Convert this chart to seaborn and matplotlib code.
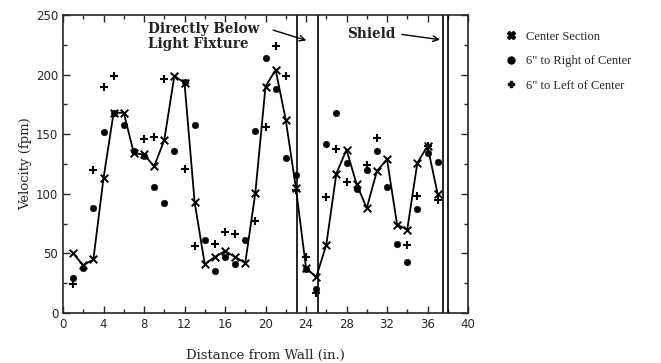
import numpy as np
import pandas as pd
import matplotlib
matplotlib.use("Agg")
import matplotlib.pyplot as plt
import seaborn as sns
from matplotlib.lines import Line2D
from matplotlib.ticker import MultipleLocator

# ---- data ----
distance = [1, 2, 3, 4, 5, 6, 7, 8, 9, 10, 11, 12, 13, 14, 15, 16, 17, 18, 19,
            20, 21, 22, 23, 24, 25, 26, 27, 28, 29, 30, 31, 32, 33, 34, 35, 36, 37]
center = [50, 40, 45, 113, 168, 168, 134, 133, 123, 145, 199, 193, 93, 41, 47, 52, 47, 42, 101,
          190, 204, 162, 105, 38, 30, 57, 117, 137, 108, 88, 119, 129, 74, 70, 126, 140, 100]
right6 = [29, 38, 88, 152, 168, 158, 136, 132, 106, 92, 136, 194, 158, 61, 35, 47, 41, 61, 153,
          214, 188, 130, 116, 37, 20, 142, 168, 126, 104, 120, 136, 106, 58, 43, 87, 134, 127]
left6 = [24, np.nan, 120, 190, 199, np.nan, np.nan, 146, 148, 196, np.nan, 121, 56, np.nan, 58, 68, 66, np.nan, 77,
         156, 224, 199, 103, 47, 17, 97, 138, 110, np.nan, 124, 147, np.nan, np.nan, 57, 98, 140, 95]

series_names = ["Center Section", "6\" to Right of Center", "6\" to Left of Center"]
fixture_lines = [23.1, 25.2]
shield_lines = [37.5, 38.0]

df = pd.DataFrame({"Distance": distance, "Center": center, "Right": right6, "Left": left6})

sns.set_style("ticks")
plt.rcParams["font.family"] = ["DejaVu Serif"]

fig = plt.figure(figsize=(6.61, 3.63), dpi=100)
ax = fig.add_axes([63 / 661, 1 - 313 / 363, 405 / 661, 298 / 363])

sns.lineplot(data=df, x="Distance", y="Center", color="black", lw=1.3, ax=ax, legend=False)
sns.scatterplot(data=df, x="Distance", y="Center", marker="x", s=30, color="black",
                linewidth=1.4, ax=ax, legend=False)
sns.scatterplot(data=df, x="Distance", y="Right", marker="o", s=22, color="black",
                edgecolor="black", ax=ax, legend=False)
sns.scatterplot(data=df, x="Distance", y="Left", marker="+", s=40, color="black",
                linewidth=1.5, ax=ax, legend=False)

for xv in fixture_lines + shield_lines:
    ax.axvline(xv, color="black", lw=1.2)

ax.set_xlim(0, 40)
ax.set_ylim(0, 250)
ax.xaxis.set_major_locator(MultipleLocator(4))
ax.xaxis.set_minor_locator(MultipleLocator(2))
ax.yaxis.set_major_locator(MultipleLocator(50))
ax.yaxis.set_minor_locator(MultipleLocator(25))
ax.tick_params(which="both", direction="in", top=True, right=True, width=1.0)
ax.tick_params(which="major", length=5)
ax.tick_params(which="minor", length=3)
for lab in ax.get_xticklabels() + ax.get_yticklabels():
    lab.set_fontfamily("DejaVu Sans")
    lab.set_fontsize(8.5)
for sp in ax.spines.values():
    sp.set_linewidth(1.2)
    sp.set_visible(True)

ax.set_xlabel("Distance from Wall (in.)", fontsize=9.5, labelpad=13)
ax.set_ylabel("Velocity (fpm)", fontsize=9.5, labelpad=3)

ax.text(8.4, 244, "Directly Below\nLight Fixture", fontsize=9.8, fontweight="bold",
        ha="left", va="top", linespacing=1.05, color="#222222")
ax.annotate("", xy=(24.3, 228), xytext=(20.5, 238),
            arrowprops=dict(arrowstyle="->", color="black", lw=1.0))
ax.text(30.5, 234, "Shield", fontsize=9.8, fontweight="bold", ha="center", va="center",
        color="#222222")
ax.annotate("", xy=(37.5, 229), xytext=(33.2, 234),
            arrowprops=dict(arrowstyle="->", color="black", lw=1.0))

handles = [
    Line2D([], [], marker="X", color="black", ls="none", markersize=6),
    Line2D([], [], marker="o", color="black", ls="none", markersize=5),
    Line2D([], [], marker="P", color="black", ls="none", markersize=5),
]
leg = ax.legend(handles, series_names, loc="upper left", bbox_to_anchor=(1.06, 0.985),
                frameon=False, handletextpad=0.6, labelspacing=1.0, handlelength=1.2,
                prop={"family": "Liberation Serif", "size": 9})

fig.savefig("out.png", dpi=100)
